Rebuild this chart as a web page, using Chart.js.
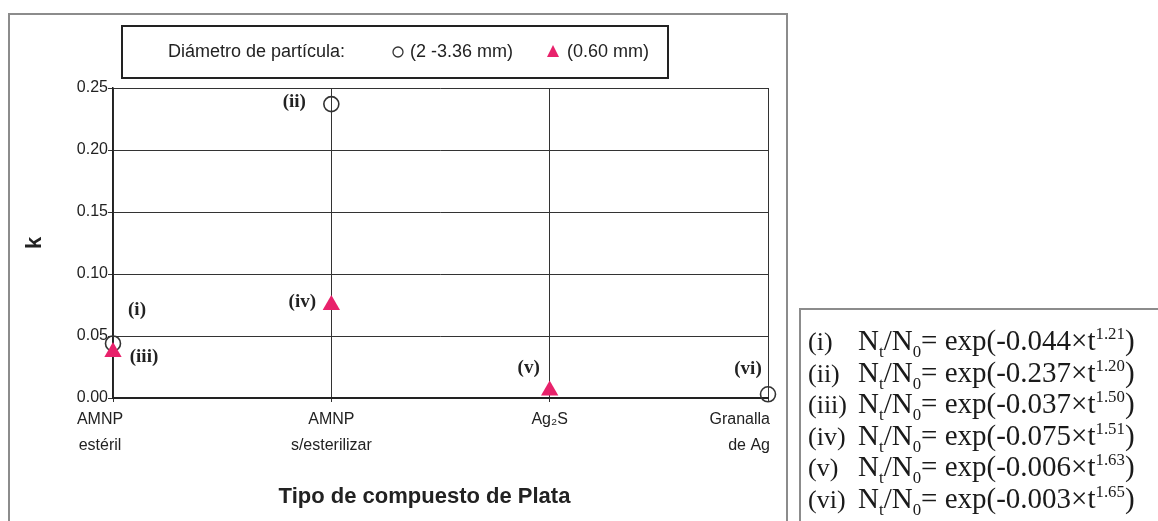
<!DOCTYPE html>
<html>
<head>
<meta charset="utf-8">
<script src="https://cdn.jsdelivr.net/npm/chart.js@4/dist/chart.umd.min.js"></script>
<style>
  html, body { margin: 0; padding: 0; background: #fff; }
  body { width: 1158px; height: 521px; position: relative; overflow: hidden; }
  #frame { position: absolute; left: 8px; top: 13px; width: 780px; height: 560px;
           border: 2px solid #8c8c8c; box-sizing: border-box; }
  #chart { position: absolute; left: 0; top: 0; }
  #eqbox { position: absolute; left: 799px; top: 308px; width: 420px; height: 260px;
           border: 2px solid #8c8c8c; box-sizing: border-box; padding: 15px 0 0 7px;
           font-family: "Liberation Serif", "Times New Roman", serif; font-size: 29px; color: #1a1a1a; }
  #eqbox .row { height: 31.6px; line-height: 31.6px; white-space: nowrap; }
  #eqbox .tag { display: inline-block; width: 50px; font-size: 26px; }
  #eqbox sub, #eqbox sup { font-size: 58%; line-height: 0; }
</style>
</head>
<body>
<div id="frame"></div>
<canvas id="chart" width="1158" height="521"></canvas>
<div id="eqbox"></div>
<script>
// Categories on the x axis (multi-line labels)
const categories = [['AMNP', 'estéril'], ['AMNP', 's/esterilizar'], ['Ag₂S'], ['Granalla', 'de Ag']];

// Rate constant k for each particle size
const kCoarse = [0.044, 0.237, null, 0.003];   // 2 - 3.36 mm
const kFine   = [0.037, 0.075, 0.006, null];   // 0.60 mm

// Point tags
const tagsCoarse = ['(i)', '(ii)', null, '(vi)'];
const tagsFine   = ['(iii)', '(iv)', '(v)', null];

// Series names
const seriesNames = ['(2 -3.36 mm)', '(0.60 mm)'];
const legendTitle = 'Diámetro de partícula:';
const xTitle = 'Tipo de compuesto de Plata';
const yTitle = 'k';

// Y axis range / tick step
const yMin = 0, yMax = 0.25, yStep = 0.05;

// Weibull model equations, listed by tag
const eqOrder = ['(i)', '(ii)', '(iii)', '(iv)', '(v)', '(vi)'];
const eqExponents = [1.21, 1.20, 1.50, 1.51, 1.63, 1.65];

const PINK = '#e8226b';
const INK = '#222';
const SANS = '"Liberation Sans", Arial, sans-serif';
const SERIF = '"Liberation Serif", "Times New Roman", serif';

// Build the equation list from the same k values used by the markers
(function buildEquations() {
  const box = document.getElementById('eqbox');
  eqOrder.forEach((tag, i) => {
    let k = null;
    let idx = tagsCoarse.indexOf(tag);
    if (idx >= 0) k = kCoarse[idx];
    idx = tagsFine.indexOf(tag);
    if (idx >= 0) k = kFine[idx];
    const row = document.createElement('div');
    row.className = 'row';
    row.innerHTML = '<span class="tag">' + tag + '</span>N<sub>t</sub>/N<sub>0</sub>= exp(-' +
      k.toFixed(3) + '×t<sup>' + eqExponents[i].toFixed(2) + '</sup>)';
    box.appendChild(row);
  });
})();

// Tag offsets from their marker, in pixels
const tagOffset = {
  '(i)': [24, -33], '(ii)': [-37, -2], '(iii)': [31, 5],
  '(iv)': [-29, -3], '(v)': [-21, -22], '(vi)': [-20, -25]
};

const tagPlugin = {
  id: 'pointTags',
  afterDatasetsDraw(chart) {
    const ctx = chart.ctx;
    ctx.save();
    ctx.font = 'bold 19px ' + SERIF;
    ctx.fillStyle = INK;
    ctx.textAlign = 'center';
    ctx.textBaseline = 'middle';
    chart.data.datasets.forEach((ds, di) => {
      const meta = chart.getDatasetMeta(di);
      meta.data.forEach((pt, j) => {
        const tag = ds.tags[j];
        if (!tag || ds.data[j] == null) return;
        const off = tagOffset[tag] || [0, -16];
        ctx.fillText(tag, pt.x + off[0], pt.y + off[1]);
      });
    });
    ctx.restore();
  }
};

// Category labels under the x axis and the axis title.
// The first label sits a little left of its gridline, the last one is right-aligned.
const xTextPlugin = {
  id: 'xAxisText',
  afterDraw(chart) {
    const ctx = chart.ctx;
    const xs = chart.scales.x;
    const n = chart.data.labels.length;
    ctx.save();
    ctx.fillStyle = INK;
    ctx.textBaseline = 'middle';
    ctx.font = '16px ' + SANS;
    chart.data.labels.forEach((lab, i) => {
      const lines = Array.isArray(lab) ? lab : [lab];
      let x = xs.getPixelForTick(i);
      if (i === 0) { ctx.textAlign = 'center'; x -= 13; }
      else if (i === n - 1) { ctx.textAlign = 'right'; x += 2; }
      else ctx.textAlign = 'center';
      lines.forEach((t, li) => ctx.fillText(t, x, xs.top + 22 + li * 26));
    });
    ctx.font = 'bold 22px ' + SANS;
    ctx.textAlign = 'center';
    ctx.fillText(xTitle, (xs.left + xs.right) / 2 - 16, xs.top + 99);
    ctx.restore();
  }
};

// Boxed legend above the plot
const legendPlugin = {
  id: 'boxLegend',
  afterDraw(chart) {
    const ctx = chart.ctx;
    const ds = chart.data.datasets;
    ctx.save();
    ctx.lineWidth = 2;
    ctx.strokeStyle = INK;
    ctx.strokeRect(122, 26, 546, 52);
    ctx.font = '18px ' + SANS;
    ctx.fillStyle = INK;
    ctx.textBaseline = 'middle';
    ctx.textAlign = 'left';
    const cy = 52;
    ctx.fillText(legendTitle, 168, cy);
    // coarse: open circle
    ctx.beginPath();
    ctx.lineWidth = 1.3;
    ctx.strokeStyle = ds[0].borderColor;
    ctx.arc(398, cy, 5, 0, Math.PI * 2);
    ctx.stroke();
    ctx.fillText(ds[0].label, 410, cy);
    // fine: filled triangle
    ctx.beginPath();
    ctx.fillStyle = ds[1].backgroundColor;
    ctx.moveTo(553, cy - 7);
    ctx.lineTo(559, cy + 5);
    ctx.lineTo(547, cy + 5);
    ctx.closePath();
    ctx.fill();
    ctx.fillStyle = INK;
    ctx.fillText(ds[1].label, 567, cy);
    ctx.restore();
  }
};

Chart.defaults.font.family = SANS;
Chart.defaults.color = INK;

new Chart(document.getElementById('chart'), {
  type: 'line',
  data: {
    labels: categories,
    datasets: [
      {
        label: seriesNames[0],
        data: kCoarse,
        tags: tagsCoarse,
        showLine: false,
        pointStyle: 'circle',
        pointRadius: 7.5,
        pointHoverRadius: 7.5,
        pointBorderWidth: 1.6,
        borderColor: '#333',
        pointBorderColor: '#333',
        backgroundColor: 'rgba(0,0,0,0)',
        pointBackgroundColor: 'rgba(0,0,0,0)',
        clip: false,
        order: 2
      },
      {
        label: seriesNames[1],
        data: kFine,
        tags: tagsFine,
        showLine: false,
        pointStyle: 'triangle',
        pointRadius: 10,
        pointHoverRadius: 10,
        pointBorderWidth: 0,
        borderColor: PINK,
        pointBorderColor: PINK,
        backgroundColor: PINK,
        pointBackgroundColor: PINK,
        clip: false,
        order: 1
      }
    ]
  },
  options: {
    responsive: false,
    animation: false,
    events: [],
    layout: { padding: { left: 13, top: 88, right: 390, bottom: 0 } },
    plugins: { legend: { display: false }, tooltip: { enabled: false } },
    scales: {
      x: {
        type: 'category',
        offset: false,
        grid: { color: '#333', lineWidth: 1, drawTicks: true, tickLength: 4 },
        border: { color: INK, width: 2 },
        ticks: { display: false },
        title: { display: false },
        afterFit(s) { s.height = 123; s.paddingLeft = 0; s.paddingRight = 0; }
      },
      y: {
        min: yMin, max: yMax,
        grid: { color: '#333', lineWidth: 1, tickLength: 5 },
        border: { color: INK, width: 1.5 },
        ticks: { stepSize: yStep, font: { size: 16 }, color: INK, padding: 0,
                 callback: v => Number(v).toFixed(2) },
        title: { display: true, text: yTitle, font: { size: 22, weight: 'bold' }, color: INK,
                 padding: { top: 9, bottom: 0 } },
        afterFit(s) { s.width = 100; }
      }
    }
  },
  plugins: [tagPlugin, xTextPlugin, legendPlugin]
});
</script>
</body>
</html>
